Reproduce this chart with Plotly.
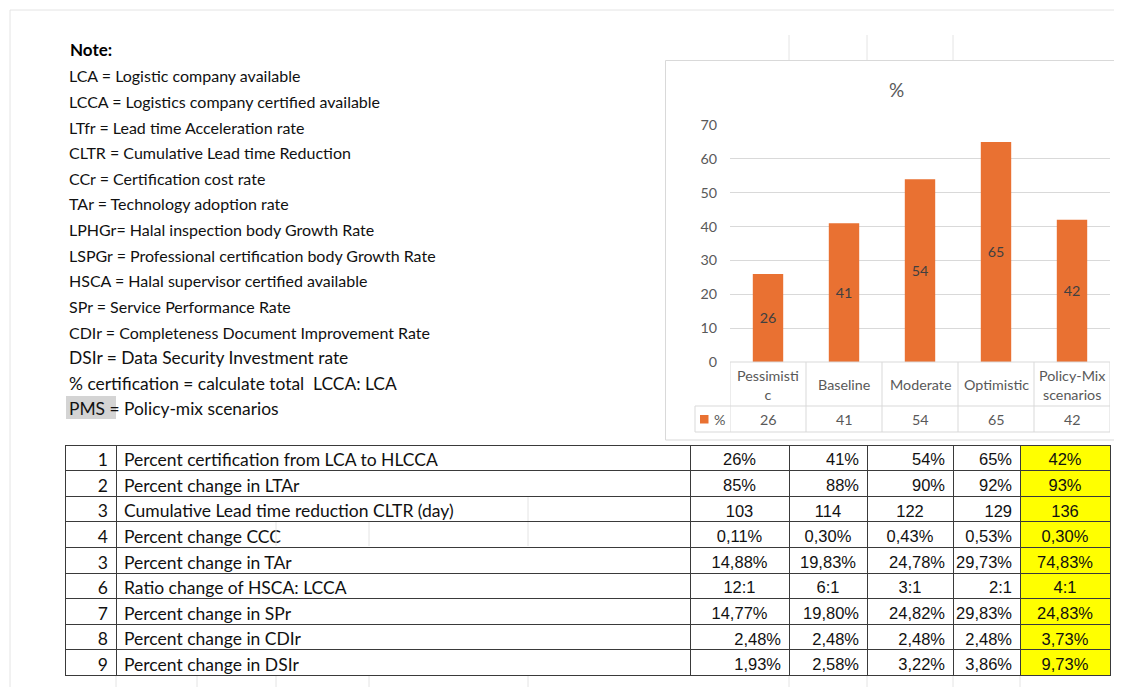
import plotly.graph_objects as go

# The page body keeps the browser's default 8px margin, so the figure is
# sized to fill exactly the 1122x695 window inside it.
OFF = 8
W, H = 1122 - 2 * OFF, 695 - 2 * OFF


def px(x):
    return (x - OFF) / W


def py(y):
    return 1 - (y - OFF) / H


# ---------------- data ----------------
categories = ["Pessimistic", "Baseline", "Moderate", "Optimistic", "Policy-Mix scenarios"]
category_labels = ["Pessimisti<br>c", "Baseline", "Moderate", "Optimistic", "Policy-Mix<br>scenarios"]
pct_certification = [26, 41, 54, 65, 42]
series_name = "%"
chart_title = "%"
y_tick_values = [0, 10, 20, 30, 40, 50, 60, 70]

note_title = "Note:"
note_lines = [
    "LCA = Logistic company available",
    "LCCA = Logistics company certified available",
    "LTfr = Lead time Acceleration rate",
    "CLTR = Cumulative Lead time Reduction",
    "CCr = Certification cost rate",
    "TAr = Technology adoption rate",
    "LPHGr= Halal inspection body Growth Rate",
    "LSPGr = Professional certification body Growth Rate",
    "HSCA = Halal supervisor certified available",
    "SPr = Service Performance Rate",
    "CDIr = Completeness Document Improvement Rate",
    "DSIr = Data Security Investment rate",
    "% certification = calculate total  LCCA: LCA",
    "PMS = Policy-mix scenarios",
]
note_sizes = [16] * 11 + [17.4, 17.4, 17.4]

row_numbers = ["1", "2", "3", "4", "3", "6", "7", "8", "9"]
row_labels = [
    "Percent certification from LCA to HLCCA",
    "Percent change in LTAr",
    "Cumulative Lead time reduction CLTR (day)",
    "Percent change CCC",
    "Percent change in TAr",
    "Ratio change of HSCA: LCCA",
    "Percent change in SPr",
    "Percent change in CDIr",
    "Percent change in DSIr",
]
pessimistic_vals = ["26%", "85%", "103", "0,11%", "14,88%", "12:1", "14,77%", "2,48%", "1,93%"]
baseline_vals = ["41%", "88%", "114", "0,30%", "19,83%", "6:1", "19,80%", "2,48%", "2,58%"]
moderate_vals = ["54%", "90%", "122", "0,43%", "24,78%", "3:1", "24,82%", "2,48%", "3,22%"]
optimistic_vals = ["65%", "92%", "129", "0,53%", "29,73%", "2:1", "29,83%", "2,48%", "3,86%"]
policy_mix_vals = ["42%", "93%", "136", "0,30%", "74,83%", "4:1", "24,83%", "3,73%", "9,73%"]

# ---------------- styles ----------------
ORANGE = "#E97132"
GREY_TXT = "#595959"
GRID = "#d9d9d9"
SHEET = "#e4e4e4"
FONT = "Lato"
NUMFONT = "Liberation Sans"
CHART_FS = 14.3

fig = go.Figure()

# bar chart
fig.add_trace(go.Bar(
    x=categories, y=pct_certification, name=series_name,
    marker=dict(color=ORANGE, line=dict(width=0)),
    width=0.4,
    text=[str(v) for v in pct_certification],
    textposition="inside", insidetextanchor="middle",
    textfont=dict(color="#404040", size=CHART_FS, family=FONT),
    hoverinfo="skip", showlegend=False,
))

# bottom table
columns = [row_numbers, row_labels, pessimistic_vals, baseline_vals,
           moderate_vals, optimistic_vals, policy_mix_vals]
align_cols = [
    ["right"] * 9,
    ["left"] * 9,
    ["center"] * 7 + ["right", "right"],
    ["right", "right", "center", "center", "center", "center", "right", "right", "right"],
    ["right", "right", "center", "center", "right", "center", "right", "right", "right"],
    ["right"] * 9,
    ["center"] * 9,
]
fills = ["white"] * 6 + ["#FFFF00"]
fams = [FONT, FONT] + [NUMFONT] * 5
sizes = [17.5, 17.5] + [16.5] * 5
ROW_H = 25.6
fig.add_trace(go.Table(
    domain=dict(x=[px(65), px(1110)], y=[0, py(445)]),
    columnwidth=[51, 574, 99, 78, 86, 67, 90],
    header=dict(
        values=[c[0] for c in columns],
        align=[a[0] for a in align_cols],
        fill=dict(color=fills),
        line=dict(color="#3a3a3a", width=1),
        font=dict(family=fams, size=sizes, color="#111111"),
        height=ROW_H,
    ),
    cells=dict(
        values=[c[1:] for c in columns],
        align=[a[1] for a in align_cols],
        fill=dict(color=fills),
        line=dict(color="#3a3a3a", width=1),
        font=dict(family=fams, size=sizes, color="#111111"),
        height=ROW_H,
    ),
))
# per-cell alignment (plotly.js supports 2-D [column][row] arrays here)
fig._data[1]["cells"]["align"] = [a[1:] for a in align_cols]

shapes = []
annotations = []

# spreadsheet faint gridlines
shapes.append(dict(type="line", xref="paper", yref="paper", x0=px(10), x1=1, y0=py(10), y1=py(10),
                   line=dict(color=SHEET, width=1)))
shapes.append(dict(type="line", xref="paper", yref="paper", x0=px(10), x1=px(10), y0=py(10), y1=0,
                   line=dict(color=SHEET, width=1)))
for gx in [789, 867, 953]:
    shapes.append(dict(type="line", xref="paper", yref="paper", x0=px(gx), x1=px(gx), y0=py(35), y1=py(60),
                       line=dict(color=SHEET, width=1)))
for gx in [116, 197, 276, 369, 528, 789, 867, 953, 1020]:
    shapes.append(dict(type="line", xref="paper", yref="paper", x0=px(gx), x1=px(gx), y0=py(676), y1=0,
                       line=dict(color=SHEET, width=1)))
# sheet gridlines showing through the unfilled label cells
for gx, y_top, y_bot in [(528, 497, 521), (276, 522, 546), (369, 522, 546), (528, 522, 546)]:
    shapes.append(dict(type="line", xref="paper", yref="paper", x0=px(gx), x1=px(gx), y0=py(y_bot), y1=py(y_top),
                       line=dict(color=SHEET, width=1)))

# chart panel border
shapes.append(dict(type="rect", xref="paper", yref="paper", x0=px(665.5), x1=1.01, y0=py(440), y1=py(60.5),
                   line=dict(color=GRID, width=1), fillcolor="rgba(0,0,0,0)", layer="below"))

# data table under chart
for i in range(len(categories) + 1):
    shapes.append(dict(type="line", xref="x", yref="paper", x0=i - 0.5, x1=i - 0.5, y0=py(432), y1=py(362),
                       line=dict(color=GRID, width=1)))
shapes.append(dict(type="line", xref="x", yref="paper", x0=-0.5, x1=len(categories) - 0.5, y0=py(362), y1=py(362),
                   line=dict(color=GRID, width=1)))
for hy in [406, 432]:
    shapes.append(dict(type="line", xref="paper", yref="paper", x0=px(695), x1=px(1110), y0=py(hy), y1=py(hy),
                       line=dict(color=GRID, width=1)))
shapes.append(dict(type="line", xref="paper", yref="paper", x0=px(695), x1=px(695), y0=py(432), y1=py(406),
                   line=dict(color=GRID, width=1)))
# legend key
shapes.append(dict(type="rect", xref="paper", yref="paper", x0=px(700), x1=px(708.5), y0=py(423.5), y1=py(415),
                   line=dict(width=0), fillcolor=ORANGE))
annotations.append(dict(xref="paper", yref="paper", x=px(712), y=py(419), xanchor="left", yanchor="middle",
                        text=series_name, showarrow=False, font=dict(family=FONT, size=CHART_FS, color=GREY_TXT)))

for cat, lab, val in zip(categories, category_labels, pct_certification):
    annotations.append(dict(xref="x", yref="paper", x=cat, y=py(384.5), xanchor="center", yanchor="middle",
                            text=lab, showarrow=False, align="center",
                            font=dict(family=FONT, size=CHART_FS, color=GREY_TXT)))
    annotations.append(dict(xref="x", yref="paper", x=cat, y=py(419), xanchor="center", yanchor="middle",
                            text=str(val), showarrow=False,
                            font=dict(family=FONT, size=CHART_FS, color=GREY_TXT)))

# chart title
annotations.append(dict(xref="paper", yref="paper", x=px(896), y=py(89), xanchor="center", yanchor="middle",
                        text=chart_title, showarrow=False, font=dict(family=FONT, size=19, color=GREY_TXT)))

# notes
annotations.append(dict(xref="paper", yref="paper", x=px(68), y=py(49), xanchor="left", yanchor="middle",
                        text="<b>" + note_title + "</b>", showarrow=False,
                        font=dict(family=FONT, size=17, color="#000000")))
# grey highlight behind "PMS"
shapes.append(dict(type="rect", xref="paper", yref="paper", x0=px(66), x1=px(116), y0=py(419), y1=py(396),
                   line=dict(width=0), fillcolor="#d4d4d4", layer="below"))
for i, (line, sz) in enumerate(zip(note_lines, note_sizes)):
    yc = 76 + i * 25.6
    annotations.append(dict(xref="paper", yref="paper", x=px(67), y=py(yc), xanchor="left", yanchor="middle",
                            text=line, showarrow=False,
                            font=dict(family=FONT, size=sz, color="#111111")))

fig.update_layout(
    width=W, height=H,
    autosize=False,
    margin=dict(l=0, r=0, t=0, b=0, pad=0, autoexpand=False),
    paper_bgcolor="white", plot_bgcolor="white",
    showlegend=False,
    xaxis=dict(domain=[px(730), px(1110)], range=[-0.5, len(categories) - 0.5], type="category",
               showticklabels=False, showgrid=False, zeroline=False, showline=False, ticks="",
               automargin=False),
    yaxis=dict(domain=[py(362), py(125)], range=[0, 70], tickvals=y_tick_values,
               showgrid=True, gridcolor=GRID, gridwidth=1, zeroline=False, showline=False, ticks="",
               tickfont=dict(family=FONT, size=CHART_FS, color=GREY_TXT), ticklabelstandoff=12,
               automargin=False),
    shapes=shapes,
    annotations=annotations,
)

fig.write_html("out.html", config={"displayModeBar": False})
